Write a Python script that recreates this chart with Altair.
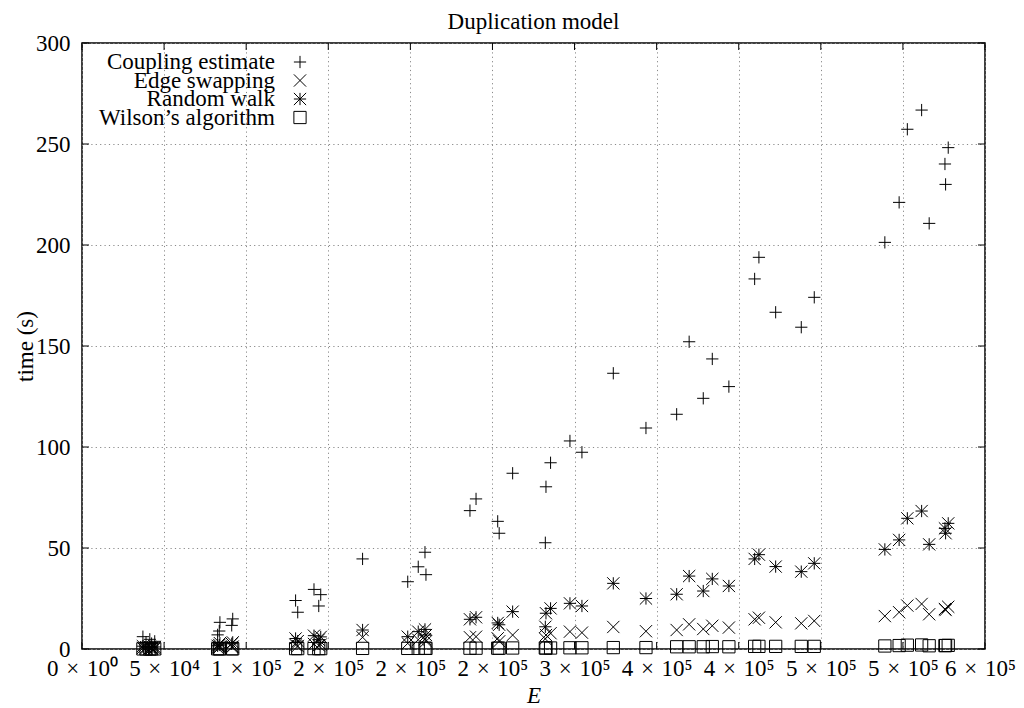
import json
import altair as alt
import pandas as pd

# ---------------- data ----------------
E = [37100, 39000, 41300, 42400, 44300,
     82600, 83600, 84000, 91200, 91800,
     130100, 131400, 141300, 144200, 145400,
     170900, 198400, 204800, 208900, 209500,
     236300, 240000, 253200, 254100, 262300,
     282200, 282600, 285400, 297200, 304500,
     323600, 343500, 362200, 369800, 378400,
     383900, 394000, 409700, 412300, 422500,
     438100, 446000, 489000, 497700, 502700,
     511400, 516000, 525600, 526000, 527600]
coupling = [6.1, 3.4, 4.8, 2.7, 3.8,
            7.0, 8.9, 13.2, 11.7, 14.9,
            24.0, 18.2, 29.5, 21.3, 26.9,
            44.6, 33.3, 40.7, 47.9, 36.8,
            68.5, 74.3, 63.2, 57.3, 87.0,
            52.6, 80.3, 92.2, 103.0, 97.4,
            136.5, 109.4, 116.2, 152.1, 124.1,
            143.6, 129.9, 183.2, 193.9, 166.7,
            159.3, 174.1, 201.3, 221.1, 257.3,
            266.8, 210.7, 240.1, 230.0, 248.2]
edge_swapping = [0.5, 0.3, 0.4, 0.3, 0.3,
                 0.6, 0.7, 1.1, 1.0, 1.2,
                 2.0, 1.5, 2.5, 1.8, 2.2,
                 5.8, 2.8, 4.6, 4.9, 3.8,
                 5.8, 6.1, 5.3, 3.8, 6.9,
                 5.0, 6.9, 7.8, 8.6, 8.1,
                 10.9, 8.8, 9.4, 12.2, 9.9,
                 11.5, 10.6, 14.7, 15.5, 13.2,
                 12.7, 13.9, 16.3, 18.2, 21.5,
                 22.3, 17.2, 19.8, 19.3, 20.9]
random_walk = [1.4, 0.9, 1.1, 0.7, 1.0,
               1.6, 2.0, 2.9, 2.6, 3.3,
               5.2, 3.9, 6.6, 4.6, 6.0,
               9.4, 6.1, 8.6, 9.7, 6.9,
               14.7, 15.7, 12.9, 12.0, 18.5,
               11.0, 17.7, 20.1, 22.6, 21.3,
               32.5, 25.0, 27.1, 36.1, 28.7,
               34.7, 31.2, 44.6, 46.7, 40.8,
               38.3, 42.4, 49.3, 54.0, 64.7,
               68.3, 51.8, 59.7, 57.3, 62.2]
wilson = [0.05, 0.05, 0.05, 0.04, 0.05,
          0.1, 0.1, 0.1, 0.1, 0.1,
          0.2, 0.2, 0.2, 0.2, 0.2,
          0.3, 0.3, 0.3, 0.4, 0.3,
          0.4, 0.4, 0.4, 0.4, 0.5,
          0.5, 0.5, 0.5, 0.6, 0.6,
          0.7, 0.7, 1.1, 1.1, 1.1,
          1.2, 1.1, 1.3, 1.3, 1.3,
          1.3, 1.3, 1.5, 1.7, 1.9,
          2.0, 1.6, 1.7, 1.7, 1.8]

series_names = ["Coupling estimate", "Edge swapping", "Random walk", "Wilson\u2019s algorithm"]
x_tick_values = [0, 50000, 100000, 150000, 200000, 250000,
                 300000, 350000, 400000, 450000, 500000, 550000]
SP = "\u2004"
x_tick_labels = [f"0{SP}\u00d7{SP}10\u2070", f"5{SP}\u00d7{SP}10\u2074", f"1{SP}\u00d7{SP}10\u2075",
                 f"2{SP}\u00d7{SP}10\u2075", f"2{SP}\u00d7{SP}10\u2075", f"2{SP}\u00d7{SP}10\u2075",
                 f"3{SP}\u00d7{SP}10\u2075", f"4{SP}\u00d7{SP}10\u2075", f"4{SP}\u00d7{SP}10\u2075",
                 f"5{SP}\u00d7{SP}10\u2075", f"5{SP}\u00d7{SP}10\u2075", f"6{SP}\u00d7{SP}10\u2075"]
y_tick_values = [0, 50, 100, 150, 200, 250, 300]

# ---------------- styling ----------------
FONT = "Liberation Serif"
FS = 23
W, H = 903, 606
shape_paths = [
    "M-1,0L1,0M0,-1L0,1",                                  # plus
    "M-1,-1L1,1M-1,1L1,-1",                                # cross
    "M-1,0L1,0M0,-1L0,1M-1,-1L1,1M-1,1L1,-1",              # star
    "M-1,-1L1,-1L1,1L-1,1Z",                               # open square
]

frames = []
for name, vals in zip(series_names, [coupling, edge_swapping, random_walk, wilson]):
    frames.append(pd.DataFrame({"E": E, "time": vals, "series": name}))
df = pd.concat(frames, ignore_index=True)

label_expr = "[" + ",".join(json.dumps(l, ensure_ascii=False) for l in x_tick_labels) + \
             "][round(datum.value / 50000)]"

x_scale = alt.Scale(domain=[0, 550000], nice=False, zero=True)
y_scale = alt.Scale(domain=[0, 300], nice=False, zero=True)

x_axis = alt.Axis(values=x_tick_values, labelExpr=label_expr, title="E",
                  titleFontStyle="italic", titleY=46, titleBaseline="middle",
                  labelPadding=8, labelFlush=False, labelOverlap=False,
                  labelOffset={"expr": "datum.value >= 550000 ? -5 : 0"},
                  ticks=False, tickSize=0, domain=False,
                  grid=True, gridDash=[1.2, 3.2], gridColor="#8a8a8a", gridWidth=1)
y_axis = alt.Axis(values=y_tick_values, title="time (s)",
                  titleX=-57, titleY=H / 2, titleAngle=270, titleBaseline="middle",
                  titleAlign="center",
                  labelPadding=12, labelFlush=False, labelOverlap=False,
                  ticks=False, tickSize=0, domain=False,
                  grid=True, gridDash=[1.2, 3.2], gridColor="#8a8a8a", gridWidth=1)

points = alt.Chart(df).mark_point(filled=False, color="black", size=150,
                                   strokeWidth=1, opacity=1).encode(
    x=alt.X("E:Q", scale=x_scale, axis=x_axis),
    y=alt.Y("time:Q", scale=y_scale, axis=y_axis),
    shape=alt.Shape("series:N", scale=alt.Scale(domain=series_names, range=shape_paths),
                    legend=None),
)

# inward tick marks (gnuplot style, mirrored on all four sides)
xt = pd.DataFrame({"E": x_tick_values})
yt = pd.DataFrame({"time": y_tick_values})
tick_len = 7
xticks_bottom = alt.Chart(xt).mark_rule(color="black", strokeWidth=1).encode(
    x=alt.X("E:Q", scale=x_scale, axis=x_axis), y=alt.value(H), y2=alt.value(H - tick_len))
xticks_top = alt.Chart(xt).mark_rule(color="black", strokeWidth=1).encode(
    x=alt.X("E:Q", scale=x_scale, axis=x_axis), y=alt.value(0), y2=alt.value(tick_len))
yticks_left = alt.Chart(yt).mark_rule(color="black", strokeWidth=1).encode(
    y=alt.Y("time:Q", scale=y_scale, axis=y_axis), x=alt.value(0), x2=alt.value(tick_len))
yticks_right = alt.Chart(yt).mark_rule(color="black", strokeWidth=1).encode(
    y=alt.Y("time:Q", scale=y_scale, axis=y_axis), x=alt.value(W - tick_len), x2=alt.value(W))

# key (top-left, labels right-justified, sample to the right)
key_layers = []
key_text_x = 193
key_sym_x = 218
key_y0, key_dy = 19, 18.5
for i, (name, path) in enumerate(zip(series_names, shape_paths)):
    kd = pd.DataFrame({"series": [name]})
    key_layers.append(alt.Chart(kd).mark_text(align="right", baseline="middle", font=FONT,
                                              fontSize=FS, color="black").encode(
        text="series:N", x=alt.value(key_text_x), y=alt.value(key_y0 + i * key_dy)))
    key_layers.append(alt.Chart(kd).mark_point(filled=False, color="black", size=150,
                                               strokeWidth=1, opacity=1).encode(
        x=alt.value(key_sym_x), y=alt.value(key_y0 + i * key_dy), shape=alt.value(path)))

chart = alt.layer(points, xticks_bottom, xticks_top, yticks_left, yticks_right, *key_layers).properties(
    width=W, height=H,
    title=alt.TitleParams("Duplication model", font=FONT, fontSize=FS, fontWeight="normal",
                          anchor="middle", offset=3, dy=5, color="black"),
    autosize=alt.AutoSizeParams(type="none"),
    padding={"left": 74, "top": 35, "right": 31, "bottom": 57},
).configure_view(stroke="black", strokeWidth=1.5).configure_axis(
    labelFont=FONT, titleFont=FONT, labelFontSize=FS, titleFontSize=FS,
    labelColor="black", titleColor="black", titleFontWeight="normal",
)

chart.save("out.html", embed_options={"renderer": "svg", "actions": False})
